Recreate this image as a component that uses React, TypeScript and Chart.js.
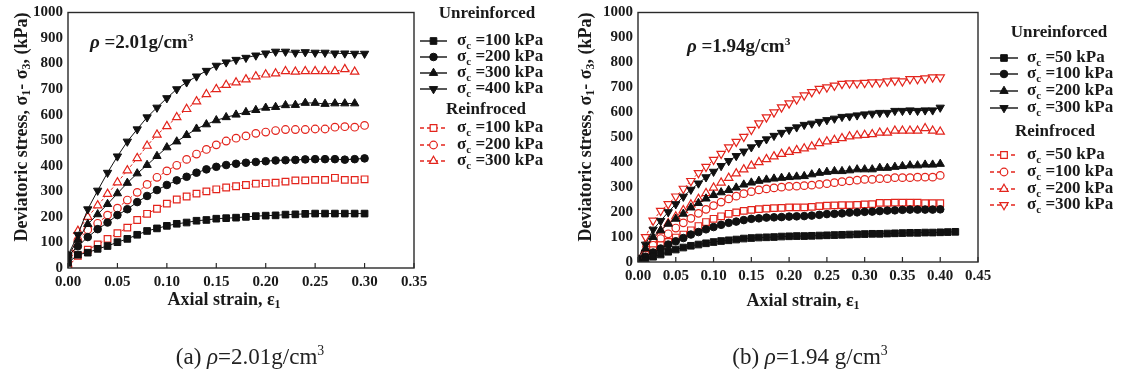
import React, { useEffect, useRef } from "react";
import { Chart, registerables } from "chart.js";
import { drawPoint } from "chart.js/helpers";

Chart.register(...registerables);

const FONT = '"Liberation Serif", "Times New Roman", serif';
const RED = "#e3241c";
const BLACK = "#111111";

// ---------- (a) rho = 2.01 g/cm3 ----------
const strainA = [0, 0.01, 0.02, 0.03, 0.04, 0.05, 0.06, 0.07, 0.08, 0.09, 0.1, 0.11, 0.12, 0.13, 0.14, 0.15, 0.16, 0.17, 0.18, 0.19, 0.2, 0.21, 0.22, 0.23, 0.24, 0.25, 0.26, 0.27, 0.28, 0.29, 0.3];
const a_U100 = [20, 52, 60, 75, 86, 101, 114, 130, 145, 155, 165, 173, 178, 185, 188, 193, 195, 197, 200, 203, 205, 206, 209, 210, 212, 213, 213, 213, 213, 213, 213];
const a_U200 = [48, 85, 121, 152, 178, 207, 230, 258, 282, 305, 325, 343, 357, 373, 386, 396, 403, 408, 412, 415, 418, 421, 422, 423, 425, 426, 426, 426, 424, 426, 429];
const a_U300 = [48, 110, 172, 210, 250, 292, 333, 370, 403, 438, 472, 495, 520, 545, 562, 578, 590, 600, 610, 618, 627, 630, 637, 638, 646, 646, 642, 644, 644, 644];
const a_U400 = [50, 130, 230, 303, 373, 437, 495, 543, 590, 628, 665, 700, 727, 750, 772, 792, 805, 815, 823, 832, 840, 847, 847, 843, 845, 843, 843, 840, 840, 839, 839];
const a_R100 = [5, 48, 72, 92, 114, 136, 158, 188, 212, 232, 252, 268, 280, 291, 300, 308, 315, 320, 325, 330, 332, 334, 338, 343, 343, 345, 345, 353, 345, 345, 347];
const a_R200 = [5, 108, 150, 175, 207, 234, 266, 296, 327, 355, 380, 402, 425, 446, 464, 482, 497, 508, 517, 527, 532, 538, 542, 542, 542, 544, 544, 551, 553, 551, 558];
const a_R300 = [5, 145, 200, 245, 290, 335, 382, 430, 478, 522, 555, 590, 622, 652, 680, 700, 716, 726, 738, 750, 757, 761, 770, 768, 770, 770, 770, 770, 778, 768];
const a_U_labels = ["100", "200", "300", "400"];
const a_R_labels = ["100", "200", "300"];

// ---------- (b) rho = 1.94 g/cm3 ----------
const strainB = [0, 0.01, 0.02, 0.03, 0.04, 0.05, 0.06, 0.07, 0.08, 0.09, 0.1, 0.11, 0.12, 0.13, 0.14, 0.15, 0.16, 0.17, 0.18, 0.19, 0.2, 0.21, 0.22, 0.23, 0.24, 0.25, 0.26, 0.27, 0.28, 0.29, 0.3, 0.31, 0.32, 0.33, 0.34, 0.35, 0.36, 0.37, 0.38, 0.39, 0.4, 0.41, 0.42];
const b_U50 = [1, 8, 21, 30, 41, 50, 58, 65, 70, 75, 80, 84, 87, 90, 94, 96, 98, 99, 100, 102, 103, 104, 104, 105, 106, 107, 108, 109, 110, 111, 112, 113, 113, 114, 115, 116, 117, 117, 118, 118, 119, 120, 121];
const b_U100 = [2, 21, 38, 54, 70, 83, 96, 110, 120, 131, 140, 149, 157, 162, 168, 173, 175, 178, 179, 180, 182, 183, 184, 186, 189, 192, 193, 195, 198, 199, 201, 202, 204, 206, 207, 209, 210, 210, 210, 210, 211];
const b_U200 = [5, 54, 100, 127, 153, 173, 193, 218, 236, 254, 268, 279, 288, 298, 310, 318, 325, 330, 334, 337, 340, 342, 344, 351, 357, 361, 364, 364, 367, 371, 371, 371, 377, 377, 381, 384, 387, 387, 390, 390, 393];
const b_U300 = [15, 70, 130, 165, 200, 232, 262, 290, 315, 340, 362, 385, 405, 425, 443, 460, 477, 492, 506, 518, 530, 540, 550, 555, 562, 569, 575, 582, 584, 588, 592, 595, 598, 598, 606, 606, 608, 606, 608, 608, 619];
const b_R50 = [1, 28, 47, 67, 80, 98, 110, 127, 144, 160, 173, 183, 193, 199, 205, 209, 212, 214, 216, 217, 219, 219, 219, 221, 224, 226, 227, 228, 228, 229, 231, 232, 237, 237, 238, 238, 238, 238, 236, 236, 236];
const b_R100 = [4, 38, 67, 94, 113, 136, 157, 175, 195, 211, 226, 240, 253, 264, 274, 282, 289, 293, 297, 300, 303, 304, 306, 308, 311, 314, 318, 322, 325, 328, 331, 331, 334, 334, 338, 338, 338, 340, 340, 340, 347];
const b_R200 = [8, 45, 90, 125, 155, 182, 207, 230, 253, 276, 298, 318, 337, 355, 371, 386, 400, 412, 423, 433, 441, 448, 455, 463, 476, 483, 489, 496, 503, 507, 509, 512, 518, 518, 526, 526, 526, 526, 536, 526, 522];
const b_R300 = [0, 100, 166, 205, 232, 263, 294, 325, 357, 382, 410, 434, 460, 482, 502, 530, 556, 580, 600, 620, 636, 652, 668, 681, 694, 700, 707, 714, 716, 716, 718, 720, 720, 724, 727, 724, 733, 733, 736, 740, 740];
const b_U_labels = ["50", "100", "200", "300"];
const b_R_labels = ["50", "100", "200", "300"];

const pts = (xs: number[], ys: number[]) => ys.map((v, i) => ({ x: xs[i], y: v }));

const STYLES = [
  { pointStyle: "rect", radius: 4.7, rot: 0 },
  { pointStyle: "circle", radius: 3.8, rot: 0 },
  { pointStyle: "triangle", radius: 4.8, rot: 0 },
  { pointStyle: "triangle", radius: 4.8, rot: 180 },
];

function unDs(data: any[], k: number) {
  const s = STYLES[k];
  return {
    data,
    borderColor: BLACK,
    backgroundColor: BLACK,
    pointBackgroundColor: BLACK,
    pointBorderColor: BLACK,
    borderWidth: 1,
    pointStyle: s.pointStyle,
    pointRadius: s.radius,
    pointRotation: s.rot,
    pointBorderWidth: 1,
    tension: 0,
    fill: false,
  };
}
function reDs(data: any[], k: number) {
  const s = STYLES[k];
  return {
    data,
    borderColor: RED,
    backgroundColor: "#ffffff",
    pointBackgroundColor: "#ffffff",
    pointBorderColor: RED,
    borderWidth: 1,
    borderDash: [3, 2],
    pointStyle: s.pointStyle,
    pointRadius: s.radius,
    pointRotation: s.rot,
    pointBorderWidth: 1.2,
    tension: 0,
    fill: false,
  };
}

type Part = { t: string; sub?: boolean };
function drawRich(ctx: CanvasRenderingContext2D, parts: Part[], x: number, y: number, size: number, align: "center" | "left") {
  const main = `bold ${size}px ${FONT}`;
  const sub = `bold ${Math.round(size * 0.64)}px ${FONT}`;
  let w = 0;
  parts.forEach((p) => {
    ctx.font = p.sub ? sub : main;
    w += ctx.measureText(p.t).width;
  });
  let cx = align === "center" ? x - w / 2 : x;
  ctx.textAlign = "left";
  ctx.textBaseline = "middle";
  parts.forEach((p) => {
    ctx.font = p.sub ? sub : main;
    ctx.fillText(p.t, cx, y + (p.sub ? size * 0.3 : 0));
    cx += ctx.measureText(p.t).width;
  });
}

type LegendCfg = {
  uTitle: { x: number; y: number };
  rTitle: { x: number; y: number };
  uY: number[];
  rY: number[];
  uLabels: string[];
  rLabels: string[];
  lineX1: number;
  lineX2: number;
  textX: number;
  nU: number;
};

function makeDecor(cfg: { key: string; xTitle: { x: number; y: number }; yTitle: { x: number; y: number }; legend: LegendCfg }) {
  return {
    id: "decor_" + cfg.key,
    afterDatasetsDraw(chart: any) {
      const ctx: CanvasRenderingContext2D = chart.ctx;
      const { left, right, top, bottom } = chart.chartArea;
      const xs = chart.scales.x;
      ctx.save();
      ctx.setLineDash([]);
      ctx.strokeStyle = "#2a2a2a";
      ctx.lineWidth = 1.4;
      ctx.strokeRect(left, top, right - left, bottom - top);
      ctx.lineWidth = 1.2;
      xs.ticks.forEach((t: any) => {
        const px = xs.getPixelForValue(t.value);
        ctx.beginPath();
        ctx.moveTo(px, bottom);
        ctx.lineTo(px, bottom - 5);
        ctx.stroke();
      });

      ctx.fillStyle = "#1a1a1a";
      drawRich(ctx, [{ t: "Axial strain, ε" }, { t: "1", sub: true }], cfg.xTitle.x, cfg.xTitle.y, 18, "center");
      ctx.save();
      ctx.translate(cfg.yTitle.x, cfg.yTitle.y);
      ctx.rotate(-Math.PI / 2);
      drawRich(
        ctx,
        [{ t: "Deviatoric stress, σ" }, { t: "1", sub: true }, { t: "- σ" }, { t: "3", sub: true }, { t: ", (kPa)" }],
        0,
        0,
        18,
        "center"
      );
      ctx.restore();

      const L = cfg.legend;
      const ds = chart.data.datasets;
      ctx.fillStyle = "#1a1a1a";
      drawRich(ctx, [{ t: "Unreinforced" }], L.uTitle.x, L.uTitle.y, 17, "center");
      drawRich(ctx, [{ t: "Reinfroced" }], L.rTitle.x, L.rTitle.y, 17, "center");
      const item = (d: any, y: number, label: string, red: boolean) => {
        ctx.save();
        ctx.strokeStyle = d.borderColor;
        ctx.lineWidth = 1.4;
        ctx.setLineDash(red ? [4, 3] : []);
        ctx.beginPath();
        ctx.moveTo(L.lineX1, y);
        ctx.lineTo(L.lineX2, y);
        ctx.stroke();
        ctx.setLineDash([]);
        ctx.fillStyle = d.pointBackgroundColor;
        ctx.strokeStyle = d.pointBorderColor;
        ctx.lineWidth = d.pointBorderWidth;
        drawPoint(ctx, { pointStyle: d.pointStyle, rotation: d.pointRotation, radius: d.pointRadius, borderWidth: d.pointBorderWidth } as any, (L.lineX1 + L.lineX2) / 2, y);
        ctx.restore();
        ctx.fillStyle = "#1a1a1a";
        drawRich(ctx, [{ t: "σ" }, { t: "c", sub: true }, { t: " =" + label + " kPa" }], L.textX, y, 17, "left");
      };
      L.uY.forEach((y, i) => item(ds[i], y, L.uLabels[i], false));
      L.rY.forEach((y, i) => item(ds[L.nU + i], y, L.rLabels[i], true));
      ctx.restore();
    },
  };
}

function baseOptions(xMax: number, pad: { left: number; top: number; right: number; bottom: number }, yWidth: number) {
  return {
    responsive: false,
    animation: false as const,
    devicePixelRatio: 1,
    layout: { padding: pad },
    plugins: { legend: { display: false }, tooltip: { enabled: false } },
    scales: {
      x: {
        type: "linear" as const,
        min: 0,
        max: xMax,
        grid: { display: false, drawTicks: false },
        border: { display: false },
        ticks: {
          stepSize: 0.05,
          padding: 5,
          color: "#1a1a1a",
          font: { family: FONT, size: 15, weight: "bold" as const },
          callback: (v: any) => Number(v).toFixed(2),
        },
        afterFit: (s: any) => {
          s.height = 40;
        },
      },
      y: {
        min: 0,
        max: 1000,
        grid: { display: false, drawTicks: false },
        border: { display: false },
        ticks: {
          stepSize: 100,
          padding: 5,
          color: "#1a1a1a",
          font: { family: FONT, size: 15, weight: "bold" as const, lineHeight: 1 },
          callback: (v: any) => String(Math.round(Number(v))),
        },
        afterFit: (s: any) => {
          s.width = yWidth;
        },
      },
    },
  };
}

export default function App() {
  const refA = useRef<HTMLCanvasElement>(null);
  const refB = useRef<HTMLCanvasElement>(null);

  useEffect(() => {
    const chartA = new Chart(refA.current as HTMLCanvasElement, {
      type: "line",
      data: {
        datasets: [
          unDs(pts(strainA, a_U100), 0),
          unDs(pts(strainA, a_U200), 1),
          unDs(pts(strainA, a_U300), 2),
          unDs(pts(strainA, a_U400), 3),
          reDs(pts(strainA, a_R100), 0),
          reDs(pts(strainA, a_R200), 1),
          reDs(pts(strainA, a_R300), 2),
        ] as any,
      },
      options: baseOptions(0.35, { left: 0, top: 12, right: 146, bottom: 69 }, 68) as any,
      plugins: [
        makeDecor({
          key: "a",
          xTitle: { x: 224, y: 300 },
          yTitle: { x: 22, y: 127 },
          legend: {
            uTitle: { x: 487, y: 14 },
            rTitle: { x: 486, y: 110 },
            uY: [41, 57, 73, 89],
            rY: [128, 145, 161],
            uLabels: a_U_labels,
            rLabels: a_R_labels,
            lineX1: 420,
            lineX2: 447,
            textX: 457,
            nU: 4,
          },
        }) as any,
      ],
    });

    const chartB = new Chart(refB.current as HTMLCanvasElement, {
      type: "line",
      data: {
        datasets: [
          unDs(pts(strainB, b_U50), 0),
          unDs(pts(strainB, b_U100), 1),
          unDs(pts(strainB, b_U200), 2),
          unDs(pts(strainB, b_U300), 3),
          reDs(pts(strainB, b_R50), 0),
          reDs(pts(strainB, b_R100), 1),
          reDs(pts(strainB, b_R200), 2),
          reDs(pts(strainB, b_R300), 3),
        ] as any,
      },
      options: baseOptions(0.45, { left: 0, top: 9, right: 146, bottom: 75 }, 76) as any,
      plugins: [
        makeDecor({
          key: "b",
          xTitle: { x: 241, y: 301 },
          yTitle: { x: 24, y: 127 },
          legend: {
            uTitle: { x: 497, y: 33 },
            rTitle: { x: 493, y: 132 },
            uY: [58, 74, 91, 108],
            rY: [155, 172, 189, 205],
            uLabels: b_U_labels,
            rLabels: b_R_labels,
            lineX1: 428,
            lineX2: 456,
            textX: 465,
            nU: 4,
          },
        }) as any,
      ],
    });

    return () => {
      chartA.destroy();
      chartB.destroy();
    };
  }, []);

  const annot: React.CSSProperties = {
    position: "absolute",
    fontFamily: FONT,
    fontWeight: "bold",
    fontSize: 19,
    lineHeight: "20px",
    color: "#1a1a1a",
    whiteSpace: "nowrap",
  };
  const caption: React.CSSProperties = {
    position: "absolute",
    fontFamily: FONT,
    fontSize: 23,
    lineHeight: "26px",
    color: "#222",
    whiteSpace: "nowrap",
    transform: "translate(-50%, -50%)",
  };
  const sup: React.CSSProperties = { fontSize: "0.6em", verticalAlign: "0.6em" };

  return (
    <div style={{ position: "absolute", left: 0, top: 0, width: 1124, height: 377, background: "#fff", overflow: "hidden" }}>
      <canvas ref={refA} width={560} height={377} style={{ position: "absolute", left: 0, top: 0, width: 560, height: 377 }} />
      <canvas ref={refB} width={562} height={377} style={{ position: "absolute", left: 562, top: 0, width: 562, height: 377 }} />
      <div style={{ ...annot, left: 90, top: 27 }}>
        <i>ρ</i> =2.01g/cm<span style={sup}>3</span>
      </div>
      <div style={{ ...annot, left: 687, top: 31 }}>
        <i>ρ</i> =1.94g/cm<span style={sup}>3</span>
      </div>
      <div style={{ ...caption, left: 250, top: 354 }}>
        (a) <i>ρ</i>=2.01g/cm<span style={sup}>3</span>
      </div>
      <div style={{ ...caption, left: 810, top: 354 }}>
        (b) <i>ρ</i>=1.94 g/cm<span style={sup}>3</span>
      </div>
    </div>
  );
}
